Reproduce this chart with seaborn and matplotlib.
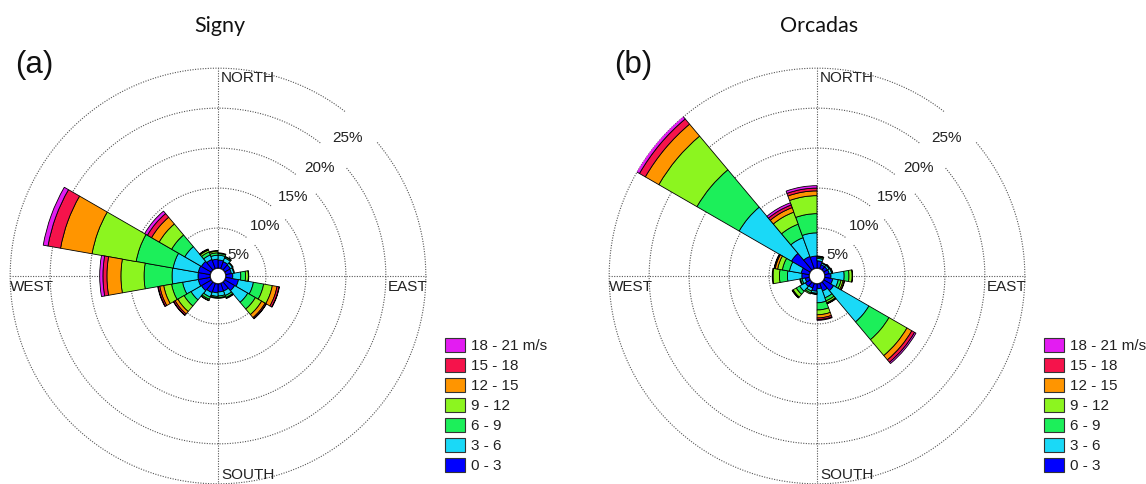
import numpy as np
import matplotlib
matplotlib.use("Agg")
import matplotlib.pyplot as plt
import seaborn as sns
from matplotlib.patches import Rectangle

# ---------------- data ----------------
directions = [10, 30, 50, 70, 90, 110, 130, 150, 170, 190, 210, 230, 250, 270, 290, 310, 330, 350]
speed_labels = ["0 - 3", "3 - 6", "6 - 9", "9 - 12", "12 - 15", "15 - 18", "18 - 21 m/s"]
speed_colors = ["#0000ff", "#1ad9f7", "#1cef5a", "#8cf51f", "#ff9500", "#f5134b", "#e31cf2"]

# Signy: frequency (%) per direction sector for each speed class
signy_0_3   = [1.0, 0.9, 0.8, 0.7, 0.85, 1.6, 1.4, 1.0, 1.0, 1.1, 1.2, 1.4, 1.5, 1.5, 1.5, 1.4, 1.2, 1.1]
signy_3_6   = [0.6, 0.5, 0.3, 0.3, 1.0, 1.9, 1.9, 0.6, 0.5, 0.45, 0.6, 1.5, 2.0, 3.25, 3.2, 2.4, 0.6, 0.5]
signy_6_9   = [0.2, 0.15, 0.1, 0.1, 0.6, 1.3, 1.1, 0.25, 0.2, 0.15, 0.3, 1.0, 1.4, 3.5, 4.7, 1.9, 0.4, 0.3]
signy_9_12  = [0.1, 0.05, 0.0, 0.0, 0.35, 1.1, 0.9, 0.1, 0.1, 0.1, 0.15, 0.9, 1.0, 2.9, 5.6, 1.8, 0.25, 0.2]
signy_12_15 = [0.0, 0.0, 0.0, 0.0, 0.05, 0.6, 0.5, 0.05, 0.0, 0.0, 0.05, 0.4, 0.5, 1.75, 4.0, 1.1, 0.1, 0.1]
signy_15_18 = [0.0, 0.0, 0.0, 0.0, 0.0, 0.25, 0.15, 0.0, 0.0, 0.0, 0.0, 0.2, 0.2, 0.5, 1.6, 0.6, 0.05, 0.0]
signy_18_21 = [0.0, 0.0, 0.0, 0.0, 0.0, 0.05, 0.05, 0.0, 0.0, 0.0, 0.0, 0.05, 0.06, 0.4, 0.6, 0.4, 0.0, 0.0]

# Orcadas
orc_0_3   = [0.9, 0.5, 0.5, 0.55, 0.75, 1.0, 1.4, 1.0, 0.6, 0.9, 0.6, 0.7, 0.5, 0.9, 1.0, 2.7, 1.6, 1.5]
orc_3_6   = [0.3, 0.2, 0.25, 0.3, 1.65, 0.7, 5.1, 0.9, 1.75, 0.25, 0.4, 0.8, 0.4, 1.8, 1.5, 7.55, 2.5, 2.9]
orc_6_9   = [0.15, 0.1, 0.1, 0.1, 0.6, 0.35, 2.9, 0.4, 0.9, 0.1, 0.25, 0.5, 0.2, 1.0, 0.9, 6.1, 1.8, 2.4]
orc_9_12  = [0.1, 0.0, 0.05, 0.05, 0.4, 0.25, 2.6, 0.25, 0.6, 0.05, 0.15, 0.45, 0.1, 0.8, 0.6, 5.5, 1.6, 2.25]
orc_12_15 = [0.05, 0.0, 0.0, 0.0, 0.05, 0.15, 0.7, 0.1, 0.4, 0.0, 0.0, 0.1, 0.0, 0.1, 0.3, 1.95, 0.6, 0.6]
orc_15_18 = [0.0, 0.0, 0.0, 0.0, 0.0, 0.05, 0.4, 0.05, 0.2, 0.0, 0.0, 0.05, 0.0, 0.0, 0.1, 0.85, 0.35, 0.35]
orc_18_21 = [0.0, 0.0, 0.0, 0.0, 0.0, 0.0, 0.2, 0.0, 0.1, 0.0, 0.0, 0.0, 0.0, 0.0, 0.05, 0.45, 0.3, 0.3]

ring_values = [5, 10, 15, 20, 25]
compass_labels = ["NORTH", "EAST", "SOUTH", "WEST"]
titles = ["Signy", "Orcadas"]
panel_tags = ["(a)", "(b)"]

signy = [signy_0_3, signy_3_6, signy_6_9, signy_9_12, signy_12_15, signy_15_18, signy_18_21]
orcadas = [orc_0_3, orc_3_6, orc_6_9, orc_9_12, orc_12_15, orc_15_18, orc_18_21]

# ---------------- style ----------------
sns.set_theme(style="white")
plt.rcParams["font.family"] = ["Liberation Sans", "DejaVu Sans"]
palette = sns.color_palette(speed_colors)
TXT = "#222222"
GRID = "#555555"
DOT = (0, (1, 1.3))

W, H = 1146, 485
fig = plt.figure(figsize=(W / 100, H / 100), dpi=100)
R = 208  # pixel radius of outer ring


def axes_rect(cx, cy):
    return [(cx - R) / W, (H - cy - R) / H, 2 * R / W, 2 * R / H]


def draw_rose(ax, series):
    ax.set_theta_zero_location("N")
    ax.set_theta_direction(-1)
    ax.set_rorigin(-1.0)
    ax.set_ylim(0, 25.02)
    ax.set_xticks([])
    ax.set_yticks([])
    ax.grid(False)
    ax.spines["polar"].set_visible(False)
    # rings (with a small gap next to the percentage labels)
    ang = np.deg2rad(np.arange(50, 398.01, 0.5))
    for v in ring_values:
        ax.plot(ang, np.full_like(ang, v), color=GRID, ls=DOT, lw=0.8,
                zorder=1, clip_on=False)
    for t in [0, 90, 180, 270]:
        ax.plot([np.deg2rad(t)] * 2, [0, 25], color=GRID, ls=DOT, lw=0.8,
                zorder=1, clip_on=False)
    theta = np.deg2rad(np.array(directions, dtype=float))
    width = np.deg2rad(20)
    bottom = np.zeros(len(directions))
    for vals, col in zip(series, palette):
        h = np.array(vals, dtype=float)
        m = h > 0
        ax.bar(theta[m], h[m], width=width, bottom=bottom[m], color=col,
               edgecolor="black", linewidth=0.6, align="center", zorder=3)
        bottom += h
    for v in ring_values:
        ax.text(np.deg2rad(43), v - 2.3, f"{v}%", ha="center", va="center",
                fontsize=11, color=TXT, zorder=5)
    ax.text(0.507, 0.978, compass_labels[0], transform=ax.transAxes, ha="left", va="center", fontsize=11, color=TXT)
    ax.text(0.507, 0.024, compass_labels[2], transform=ax.transAxes, ha="left", va="center", fontsize=11, color=TXT)
    ax.text(0.0, 0.476, compass_labels[3], transform=ax.transAxes, ha="left", va="center", fontsize=11, color=TXT)
    ax.text(1.003, 0.476, compass_labels[1], transform=ax.transAxes, ha="right", va="center", fontsize=11, color=TXT)


def draw_legend(x0):
    y0 = 339
    for i, (lab, col) in enumerate(zip(speed_labels[::-1], list(palette)[::-1])):
        y = y0 + i * 20
        fig.add_artist(Rectangle((x0 / W, 1 - (y + 14) / H), 20 / W, 14 / H,
                                 transform=fig.transFigure, facecolor=col,
                                 edgecolor="#333333", linewidth=0.8))
        fig.text((x0 + 26) / W, 1 - (y + 7) / H, lab, ha="left", va="center",
                 fontsize=11, color=TXT)


centers = [(218, 277), (817, 277)]
for k, (series, (cx, cy)) in enumerate(zip([signy, orcadas], centers)):
    ax = fig.add_axes(axes_rect(cx, cy), projection="polar")
    draw_rose(ax, series)
    fig.text((cx + 2) / W, 1 - 32 / H, titles[k], ha="center", va="baseline",
             fontsize=15.5, family=["Lato", "DejaVu Sans"], color="#111111")
    fig.text((cx - 184) / W, 1 - 65 / H, panel_tags[k], ha="center", va="center",
             fontsize=22.5, color="#111111")
    draw_legend(cx + 227)

fig.savefig("out.png", dpi=100)
